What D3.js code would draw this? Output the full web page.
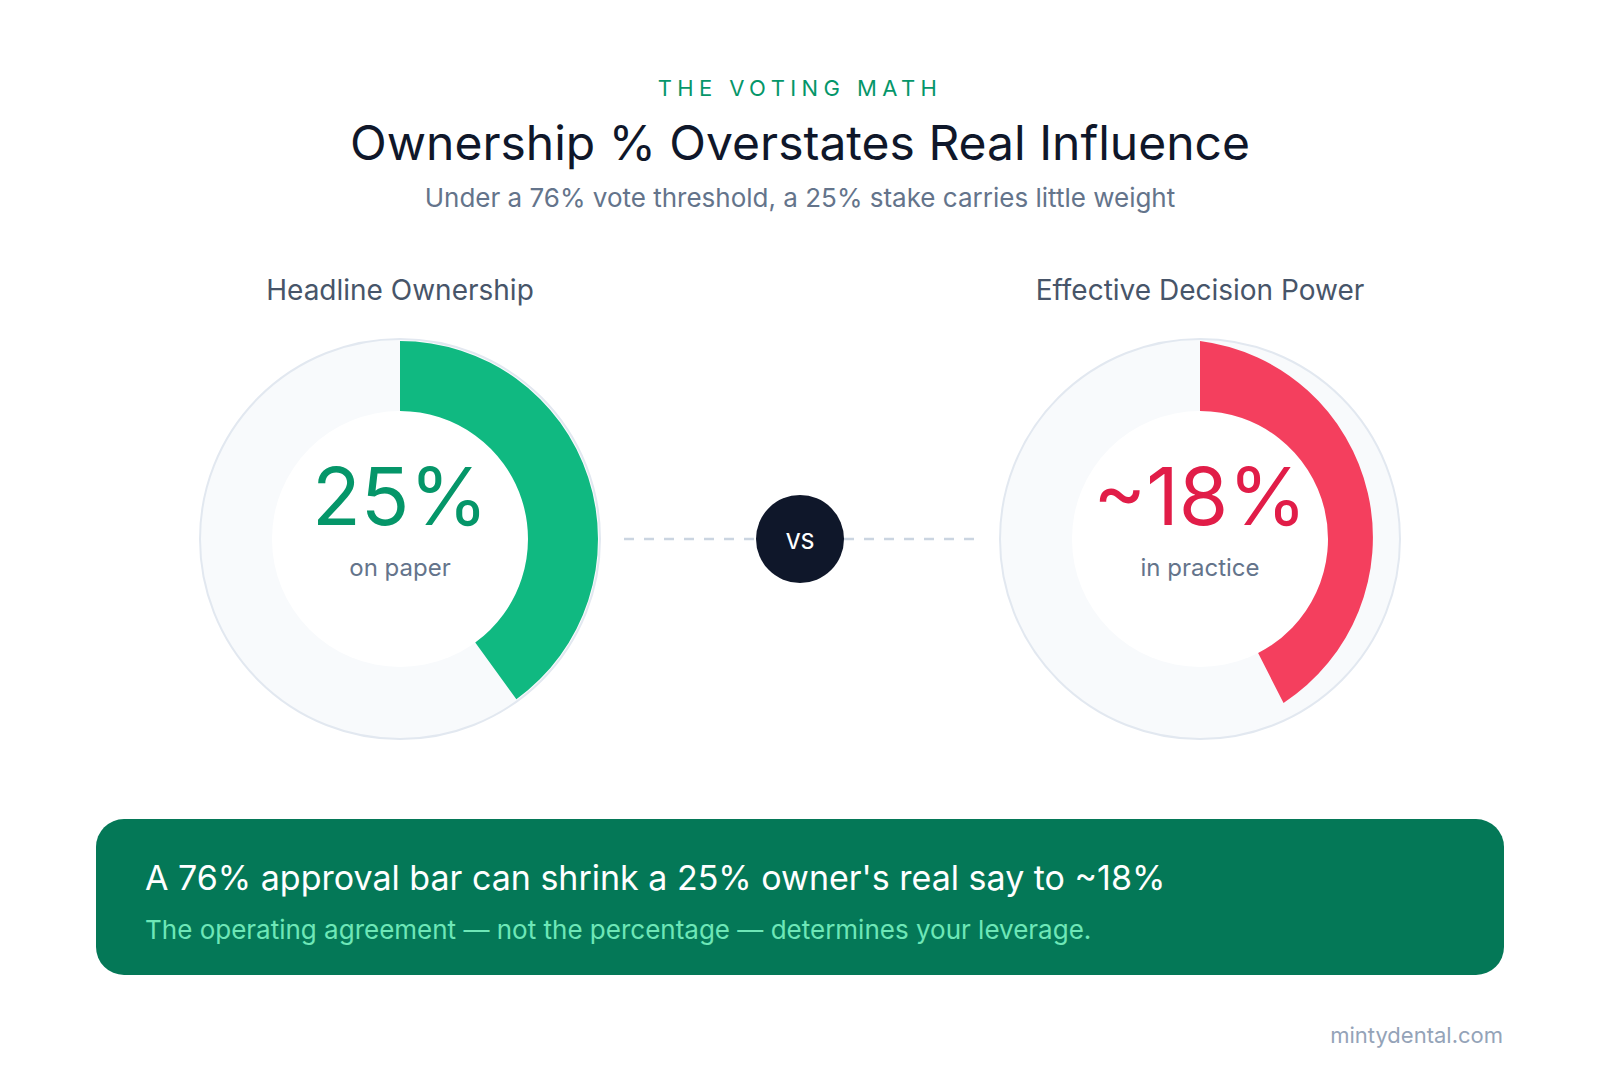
<!DOCTYPE html>
<html>
<head>
<meta charset="utf-8">
<script src="https://cdn.jsdelivr.net/npm/d3@7"></script>
<style>
  html, body { margin: 0; padding: 0; background: #ffffff; }
  svg { display: block; font-family: Inter, "Noto Sans", sans-serif; }
</style>
</head>
<body>
<svg id="chart" width="1600" height="1080"></svg>
<script>
// ---- data ----
const kicker = "THE VOTING MATH";
const title = "Ownership % Overstates Real Influence";
const subtitle = "Under a 76% vote threshold, a 25% stake carries little weight";
const panels = ["Headline Ownership", "Effective Decision Power"];
const valueLabels = ["25%", "~18%"];
const subLabels = ["on paper", "in practice"];
const arcShares = [0.40, 0.425];          // share of the ring filled, as drawn
const bannerTitle = "A 76% approval bar can shrink a 25% owner's real say to ~18%";
const bannerText = "The operating agreement \u2014 not the percentage \u2014 determines your leverage.";
const source = "mintydental.com";

// ---- styles ----
const arcColors = ["#10b981", "#f43f5e"];
const valueColors = ["#059669", "#e11d48"];
const W = 1600, H = 1080;
const cy = 539, rTrack = 200, rInner = 128, rArc = 198;

const svg = d3.select("#chart");
svg.append("rect").attr("width", W).attr("height", H).attr("fill", "#ffffff");

// header
svg.append("text").attr("x", 800).attr("y", 96).attr("text-anchor", "middle")
  .attr("font-size", 22).attr("letter-spacing", 5.4).attr("font-weight", 400)
  .attr("fill", "#059669").text(kicker);
svg.append("text").attr("x", 800).attr("y", 160).attr("text-anchor", "middle")
  .attr("font-size", 48).attr("font-weight", 400).attr("fill", "#0f172a").text(title);
svg.append("text").attr("x", 800).attr("y", 207).attr("text-anchor", "middle")
  .attr("font-size", 26).attr("fill", "#64748b").text(subtitle);

// scales
const x = d3.scalePoint().domain(panels).range([400, 1200]);
const angle = d3.scaleLinear().domain([0, 1]).range([0, 2 * Math.PI]);

// connector + vs
svg.append("line").attr("x1", 624).attr("x2", 976).attr("y1", cy).attr("y2", cy)
  .attr("stroke", "#cbd5e1").attr("stroke-width", 2.5).attr("stroke-dasharray", "10,10");
svg.append("circle").attr("cx", 800).attr("cy", cy).attr("r", 44).attr("fill", "#0f172a");
svg.append("text").attr("x", 800).attr("y", cy + 10).attr("text-anchor", "middle")
  .attr("font-size", 21).attr("font-weight", 500).attr("fill", "#ffffff").text("VS");

const arcGen = d3.arc().innerRadius(rInner).outerRadius(rArc).startAngle(0);

// the right-hand arc in the reference narrows toward its tip
function taperedArc(a1, tipR) {
  const p0 = [0, -rArc];
  const p1 = [tipR * Math.sin(a1), -tipR * Math.cos(a1)];
  const dx = p1[0] - p0[0], dy = p1[1] - p0[1];
  const L = Math.hypot(dx, dy);
  const h = Math.sqrt(Math.max(0, rArc * rArc - (L / 2) * (L / 2)));
  const c = [(p0[0] + p1[0]) / 2 - h * dy / L, (p0[1] + p1[1]) / 2 + h * dx / L];
  const p = d3.path();
  p.moveTo(p0[0], p0[1]);
  p.arc(c[0], c[1], rArc, Math.atan2(p0[1] - c[1], p0[0] - c[0]), Math.atan2(p1[1] - c[1], p1[0] - c[0]), false);
  p.lineTo(rInner * Math.sin(a1), -rInner * Math.cos(a1));
  p.arc(0, 0, rInner, a1 - Math.PI / 2, -Math.PI / 2, true);
  p.closePath();
  return p.toString();
}

const g = svg.selectAll("g.panel").data(panels).join("g")
  .attr("class", "panel")
  .attr("transform", d => `translate(${x(d)},${cy})`);

g.append("text").attr("x", 0).attr("y", -239).attr("text-anchor", "middle")
  .attr("font-size", 28).attr("fill", "#475569").text(d => d);

g.append("circle").attr("r", rTrack).attr("fill", "#f8fafc")
  .attr("stroke", "#e2e8f0").attr("stroke-width", 2);
g.append("circle").attr("r", rInner).attr("fill", "#ffffff");

g.append("path")
  .attr("d", (d, i) => i === 0
    ? arcGen({ endAngle: angle(arcShares[i]) })
    : taperedArc(angle(arcShares[i]), 184))
  .attr("fill", (d, i) => arcColors[i]);

g.append("text").attr("x", 0).attr("y", -14).attr("text-anchor", "middle")
  .attr("font-size", 80).attr("fill", (d, i) => valueColors[i])
  .text((d, i) => valueLabels[i]);
g.append("text").attr("x", 0).attr("y", 37).attr("text-anchor", "middle")
  .attr("font-size", 24).attr("fill", "#64748b")
  .text((d, i) => subLabels[i]);

// banner
svg.append("rect").attr("x", 96).attr("y", 819).attr("width", 1408).attr("height", 156)
  .attr("rx", 28).attr("fill", "#047857");
svg.append("text").attr("x", 145).attr("y", 890)
  .attr("font-size", 34).attr("font-weight", 400).attr("fill", "#ffffff").text(bannerTitle);
svg.append("text").attr("x", 145).attr("y", 939)
  .attr("font-size", 26).attr("fill", "#6ee7b7").text(bannerText);

svg.append("text").attr("x", 1503).attr("y", 1043).attr("text-anchor", "end")
  .attr("font-size", 22).attr("fill", "#94a3b8").text(source);
</script>
</body>
</html>
